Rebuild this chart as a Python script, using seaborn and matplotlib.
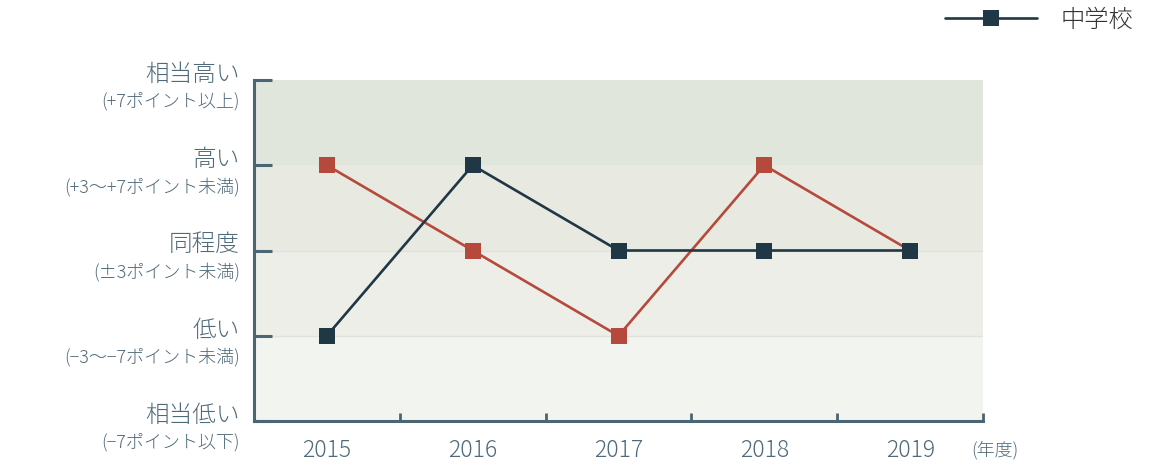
import matplotlib
matplotlib.use("Agg")
import matplotlib.pyplot as plt
from matplotlib.lines import Line2D
import seaborn as sns
import pandas as pd

# Data
years = ["2015", "2016", "2017", "2018", "2019"]
junior_high = [1, 3, 2, 2, 2]          # 中学校
comparison = [3, 2, 1, 3, 2]           # second series (red)
level_labels = ["相当低い", "低い", "同程度", "高い", "相当高い"]
level_notes = ["(−7ポイント以下)", "(−3〜−7ポイント未満)", "(±3ポイント未満)",
               "(+3〜+7ポイント未満)", "(+7ポイント以上)"]
legend_label = "中学校"
unit_label = "(年度)"

sns.set_theme(style="white")
plt.rcParams["font.family"] = ["Noto Sans CJK JP", "DejaVu Sans"]

AXIS_C = "#4a6574"
TEXT_C = "#4f6a79"
DARK = "#203746"
RED = "#b54a3c"
band_colors = ["#f2f4ef", "#edeee7", "#e8eae2", "#e1e6dd"]

fig = plt.figure(figsize=(11.57, 4.68), dpi=100)
ax = fig.add_axes([254 / 1157, 1 - 421 / 468, (983 - 254) / 1157, (421 - 80) / 468])

x = list(range(len(years)))
df = pd.DataFrame({"x": x + x,
                   "level": junior_high + comparison,
                   "series": ["中学校"] * len(x) + ["比較"] * len(x)})

# Background bands
for i, c in enumerate(band_colors):
    ax.axhspan(i, i + 1, color=c, zorder=0, lw=0)
for lv in (1, 2):
    ax.axhline(lv, color="#e0e3da", lw=1, zorder=0.5)

sns.lineplot(data=df[df.series == "比較"], x="x", y="level", color=RED,
             marker="s", markersize=11.5, markeredgewidth=0, lw=1.9, ax=ax,
             legend=False, zorder=3)
sns.lineplot(data=df[df.series == "中学校"], x="x", y="level", color=DARK,
             marker="s", markersize=11.5, markeredgewidth=0, lw=1.9, ax=ax,
             legend=False, zorder=4)

ax.set_xlim(-0.5, len(years) - 0.5)
ax.set_ylim(0, 4)
ax.set_xlabel("")
ax.set_ylabel("")

for s in ("top", "right"):
    ax.spines[s].set_visible(False)
for s in ("left", "bottom"):
    ax.spines[s].set_color(AXIS_C)
    ax.spines[s].set_linewidth(2.2)

# X axis: labels at category centres, tick marks at boundaries
ax.set_xticks(x)
ax.set_xticklabels(years, fontsize=16.5, color=TEXT_C, fontweight="light")
ax.set_xticks([i + 0.5 for i in x], minor=True)
ax.tick_params(axis="x", which="major", length=0, pad=12)
ax.tick_params(axis="x", which="minor", direction="in", length=6,
               width=2, color=AXIS_C, bottom=True)

# Y axis: level names with notes underneath
ax.set_yticks(range(5))
ax.set_yticklabels([])
ax.tick_params(axis="y", direction="in", length=13, width=2.2,
               color=AXIS_C, left=True)
for lv, (name, note) in enumerate(zip(level_labels, level_notes)):
    ax.annotate(name, xy=(0, lv), xycoords=("axes fraction", "data"),
                xytext=(-10, 4), textcoords="offset points",
                ha="right", va="center", fontsize=17, color=TEXT_C,
                fontweight="light", annotation_clip=False)
    ax.annotate(note, xy=(0, lv), xycoords=("axes fraction", "data"),
                xytext=(-10, -15.5), textcoords="offset points",
                ha="right", va="center", fontsize=13, color=TEXT_C,
                fontweight="light", annotation_clip=False)

fig.text(971 / 1157, 1 - 450 / 468, unit_label, fontsize=13, color=TEXT_C,
         va="center", ha="left", fontweight="light")

handle = Line2D([], [], color=DARK, lw=1.9, marker="s", markersize=11.5,
                markeredgewidth=0)
fig.legend([handle], [legend_label], loc="upper right",
           bbox_to_anchor=(0.998, 1.03), frameon=False, handlelength=3.8,
           handletextpad=0.95, prop={"size": 17.5, "weight": "light"},
           labelcolor="#333333")

fig.savefig("out.png", dpi=100)
